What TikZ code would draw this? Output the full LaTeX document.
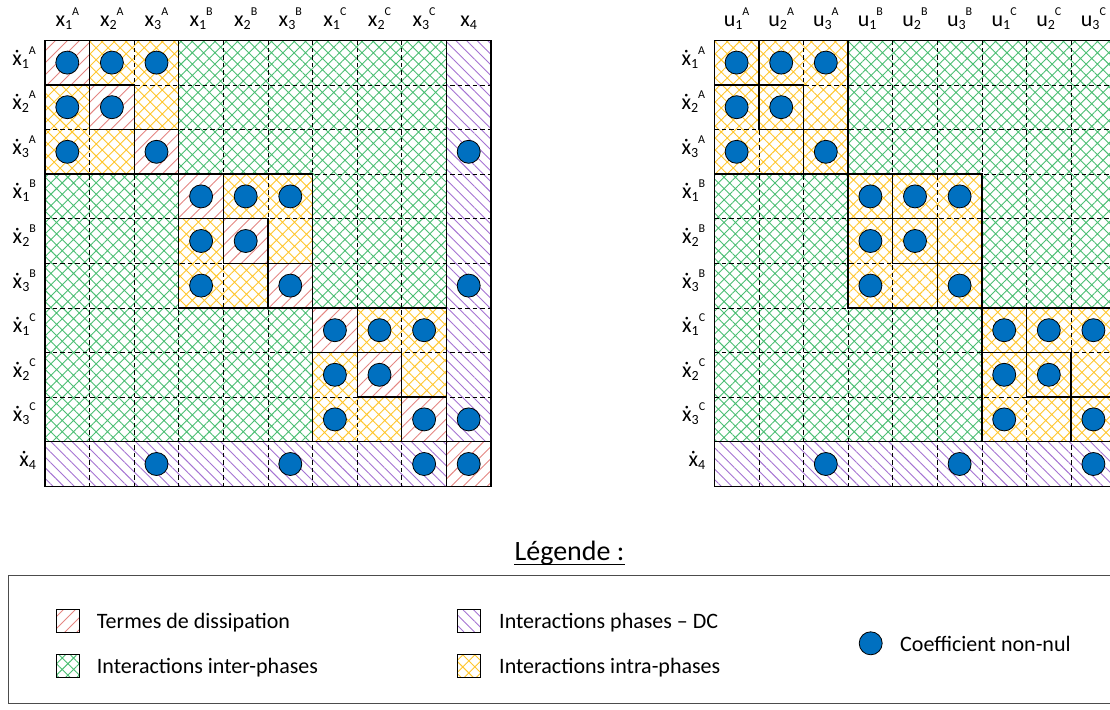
\documentclass[tikz,border=0pt]{standalone}
\usepackage{fontspec}
\setmainfont{Carlito}
\usetikzlibrary{patterns.meta}

\definecolor{disred}{RGB}{228,134,130}
\definecolor{dcviolet}{RGB}{165,115,210}
\definecolor{intragold}{RGB}{255,198,45}
\definecolor{intergreen}{RGB}{75,190,115}
\definecolor{coefblue}{RGB}{0,112,192}

% variable avec indice et exposant decales
\newcommand{\mvar}[3]{#1\raisebox{-3pt}{\fontsize{14}{14}\selectfont #2}\raisebox{11pt}{\fontsize{12}{12}\selectfont #3}}

\begin{document}
\begin{tikzpicture}[x=1pt, y=-1pt,
    every node/.style={font=\fontsize{22}{26}\selectfont, inner sep=0pt},
    dis/.style={pattern={Lines[angle=45, distance=8.5pt, line width=0.9pt]}, pattern color=disred},
    dc/.style={pattern={Lines[angle=-45, distance=7.5pt, line width=0.9pt]}, pattern color=dcviolet},
    intra/.style={pattern={Hatch[angle=45, distance=8.5pt, line width=0.9pt]}, pattern color=intragold},
    inter/.style={pattern={Hatch[angle=45, distance=8pt, line width=0.9pt]}, pattern color=intergreen},
    zone0/.style={dis}, zone1/.style={dc}, zone2/.style={intra}, zone3/.style={inter},
    dashline/.style={dash pattern=on 4.5pt off 3pt, line width=0.8pt},
    bord/.style={line width=1.3pt},
    coef/.style={circle, draw, line width=0.8pt, fill=coefblue, minimum size=23pt},
    keybox/.style={draw, line width=0.8pt, minimum size=23pt},
    cadre/.style={draw=black!70, line width=1pt},
  ]
  \useasboundingbox (0,0) rectangle (1110,709);

  % matrice A (etats)
  \begin{scope}[shift={(45,40.3)}, x=44.6pt, y=-44.6pt]
    \foreach \i in {1,...,10}
      \foreach \j in {1,...,10} {
        \pgfmathtruncatemacro\rp{\i>9 ? 3 : int((\i-1)/3)}
        \pgfmathtruncatemacro\cp{\j>9 ? 3 : int((\j-1)/3)}
        \pgfmathtruncatemacro\kind{\i==\j ? 0 : ((\rp==3 || \cp==3) ? 1 : (\rp==\cp ? 2 : 3))}
        \path[zone\kind] (\j-1,\i-1) rectangle (\j,\i);
      }
    \foreach \k in {1,...,9}
      \draw[dashline] (\k,0) -- (\k,10) (0,\k) -- (10,\k);
    \foreach \k in {1,...,10}
      \draw[bord] (\k-1,\k-1) rectangle (\k,\k);
    \foreach \b in {0,3,6}
      \draw[bord] (\b,\b) rectangle ++(3,3);
    \draw[bord] (9,0) -- (9,10) (0,9) -- (10,9) (0,0) rectangle (10,10);
    \foreach \b in {0,3,6}
      \foreach \r/\c in {1/1,1/2,1/3,2/1,2/2,3/1,3/3} {
        \pgfmathtruncatemacro\ri{\b+\r}
        \pgfmathtruncatemacro\ci{\b+\c}
        \node[coef] (a\ri-\ci) at (\ci-0.5,\ri-0.5) {};
      }
    \foreach \r/\c in {3/10,6/10,9/10,10/3,10/6,10/9,10/10}
      \node[coef] (a\r-\c) at (\c-0.5,\r-0.5) {};
    \foreach \p [count=\q from 0] in {A,B,C}
      \foreach \n in {1,2,3} {
        \pgfmathtruncatemacro\k{3*\q+\n}
        \node[anchor=base] (ac\k) at (\k-0.5,-0.305) {\mvar{x}{\n}{\p}};
        \node[anchor=base east] (ar\k) at (-0.2,\k-0.446) {\mvar{ẋ}{\n}{\p}};
      }
    \node[anchor=base] (ac10) at (9.5,-0.305) {\mvar{x}{4}{}};
    \node[anchor=base east] (ar10) at (-0.2,9.554) {\mvar{ẋ}{4}{}};
  \end{scope}

  % matrice B (commandes)
  \begin{scope}[shift={(714.3,40.3)}, x=44.6pt, y=-44.6pt]
    \foreach \i in {1,...,10}
      \foreach \j in {1,...,9} {
        \pgfmathtruncatemacro\rp{\i>9 ? 3 : int((\i-1)/3)}
        \pgfmathtruncatemacro\cp{int((\j-1)/3)}
        \pgfmathtruncatemacro\kind{\rp==3 ? 1 : (\rp==\cp ? 2 : 3)}
        \path[zone\kind] (\j-1,\i-1) rectangle (\j,\i);
      }
    \foreach \k in {1,...,9}
      \draw[dashline] (\k,0) -- (\k,10) (0,\k) -- (9,\k);
    \foreach \k in {1,...,9}
      \draw[bord] (\k-1,\k-1) rectangle (\k,\k);
    \foreach \b in {0,3,6}
      \draw[bord] (\b,\b) rectangle ++(3,3);
    \draw[bord] (0,9) -- (9,9) (0,0) rectangle (9,10);
    \foreach \b in {0,3,6}
      \foreach \r/\c in {1/1,1/2,1/3,2/1,2/2,3/1,3/3} {
        \pgfmathtruncatemacro\ri{\b+\r}
        \pgfmathtruncatemacro\ci{\b+\c}
        \node[coef] (b\ri-\ci) at (\ci-0.5,\ri-0.5) {};
      }
    \foreach \c in {3,6,9}
      \node[coef] (b10-\c) at (\c-0.5,9.5) {};
    \foreach \p [count=\q from 0] in {A,B,C}
      \foreach \n in {1,2,3} {
        \pgfmathtruncatemacro\k{3*\q+\n}
        \node[anchor=base] (bc\k) at (\k-0.5,-0.305) {\mvar{u}{\n}{\p}};
        \node[anchor=base east] (br\k) at (-0.2,\k-0.446) {\mvar{ẋ}{\n}{\p}};
      }
    \node[anchor=base east] (br10) at (-0.2,9.554) {\mvar{ẋ}{4}{}};
  \end{scope}

  % legende
  \node[anchor=base, font=\fontsize{28}{32}\selectfont] (titre) at (569.5,560.5) {Légende :};
  \draw[line width=1pt] ([yshift=-3.5pt]titre.base west) -- ([yshift=-3.5pt]titre.base east);
  \draw[cadre] (8,575.3) rectangle (1125,703);
  \node[keybox, dis] (kdis) at (67.7,620.5) {};
  \node[anchor=base west] (tdis) at (96.7,628.3) {Termes de dissipation};
  \node[keybox, inter] (kinter) at (67.7,665.5) {};
  \node[anchor=base west] (tinter) at (96.7,673.3) {Interactions inter-phases};
  \node[keybox, dc] (kdc) at (469,620.5) {};
  \node[anchor=base west] (tdc) at (499,628.3) {Interactions phases – DC};
  \node[keybox, intra] (kintra) at (469,665.5) {};
  \node[anchor=base west] (tintra) at (499,673.3) {Interactions intra-phases};
  \node[coef] (kcoef) at (870.7,643.3) {};
  \node[anchor=base west] (tcoef) at (900,651) {Coefficient non-nul};
\end{tikzpicture}
\end{document}
